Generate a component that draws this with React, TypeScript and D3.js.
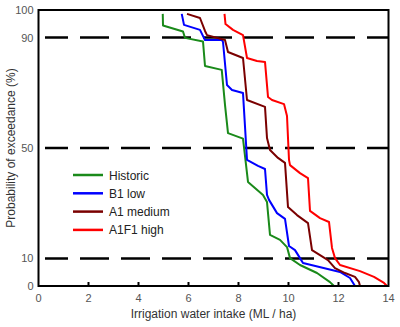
import React from "react";
import * as d3 from "d3";

const xTicks = [0, 2, 4, 6, 8, 10, 12, 14];
const yTicks = [0, 10, 50, 90, 100];
const dashedLevels = [10, 50, 90];

const seriesNames = ["Historic", "B1 low", "A1 medium", "A1F1 high"];
const seriesColors = ["#1a8a1a", "#0000ff", "#7a0000", "#ff0000"];

const historic: [number, number][] = [
  [4.97, 98.6], [4.98, 94.4], [5.78, 92.2], [5.86, 89.9], [6.58, 88.6], [6.66, 79.7],
  [7.33, 78.3], [7.46, 65.6], [7.58, 55.4], [8.18, 53.4], [8.38, 37.7], [8.98, 33.0],
  [9.14, 30.4], [9.26, 18.5], [9.66, 16.7], [9.94, 14.1], [10.06, 10.1], [10.46, 7.6],
  [11.14, 4.7], [11.66, 1.4], [11.82, 0],
];
const b1Low: [number, number][] = [
  [5.73, 98.6], [5.82, 94.6], [6.46, 92.8], [6.66, 89.1], [7.34, 89.1], [7.38, 88.4],
  [7.54, 72.8], [7.74, 71.0], [8.18, 69.9], [8.34, 45.7], [8.78, 43.5], [9.06, 42.4],
  [9.14, 33.0], [9.22, 31.2], [9.54, 26.4], [9.86, 24.3], [10.02, 14.5], [10.26, 13.0],
  [10.46, 10.1], [10.58, 8.3], [12.06, 5.1], [12.46, 2.9], [12.66, 0],
];
const a1Medium: [number, number][] = [
  [5.94, 98.6], [6.46, 97.1], [6.66, 92.4], [6.74, 90.9], [7.46, 89.1], [7.58, 84.8],
  [8.18, 82.6], [8.34, 67.4], [9.06, 64.9], [9.14, 53.6], [9.26, 49.3], [9.58, 46.4],
  [9.86, 44.6], [9.98, 28.6], [10.34, 25.7], [10.78, 22.8], [10.94, 13.0], [11.26, 11.2],
  [11.58, 9.4], [11.86, 6.5], [12.26, 4.7], [12.66, 3.3], [12.82, 1.4], [12.86, 0],
];
const a1f1High: [number, number][] = [
  [7.44, 98.6], [7.48, 94.9], [7.78, 92.8], [8.18, 90.9], [8.34, 82.6], [8.74, 81.5],
  [9.06, 81.2], [9.18, 68.5], [9.34, 67.4], [9.82, 65.9], [9.94, 61.6], [10.02, 45.7],
  [10.06, 43.8], [10.46, 40.9], [10.78, 39.1], [10.86, 27.2], [11.26, 24.6], [11.62, 23.2],
  [11.74, 13.8], [11.86, 10.1], [12.06, 7.6], [12.86, 5.4], [13.42, 3.3], [13.82, 1.1],
  [13.94, 0],
];
const seriesData = [historic, b1Low, a1Medium, a1f1High];

export default function App() {
  const W = 400, H = 327;
  const left = 38.5, right = 388.5, top = 10, bottom = 286;
  const x = d3.scaleLinear().domain([0, 14]).range([left, right]);
  const y = d3.scaleLinear().domain([0, 100]).range([bottom, top]);
  const line = d3.line<[number, number]>().x(d => x(d[0])).y(d => y(d[1]));
  const font = "Arial, 'Liberation Sans', sans-serif";

  return (
    <svg width={W} height={H} style={{ position: "absolute", left: 0, top: 0 }}>
      <rect width={W} height={H} fill="#fff" />
      {dashedLevels.map(v => (
        <line key={v} x1={45} x2={right} y1={y(v)} y2={y(v)} stroke="#000"
          strokeWidth={2.5} strokeDasharray="29 12" strokeDashoffset={6} />
      ))}
      {seriesData.map((s, i) => (
        <path key={i} d={line(s) || ""} fill="none" stroke={seriesColors[i]} strokeWidth={2} strokeLinejoin="round" />
      ))}
      <rect x={left} y={top} width={right - left} height={bottom - top} fill="none" stroke="#000" strokeWidth={2} />
      {xTicks.map(t => (
        <g key={t}>
          {t > 0 && t < 14 && <line x1={x(t)} x2={x(t)} y1={bottom} y2={bottom - 4} stroke="#000" strokeWidth={2} />}
          <text x={x(t)} y={bottom + 16} textAnchor="middle" fontFamily={font} fontSize={11} fill="#555">{t}</text>
        </g>
      ))}
      {yTicks.map(t => (
        <text key={t} x={left - 5} y={y(t) + 4} textAnchor="end" fontFamily={font} fontSize={11} fill="#555">{t}</text>
      ))}
      <text x={(left + right) / 2} y={318} textAnchor="middle" fontFamily={font} fontSize={12} fill="#333">
        Irrigation water intake (ML / ha)
      </text>
      <text transform={`translate(15, ${(top + bottom) / 2}) rotate(-90)`} textAnchor="middle"
        fontFamily={font} fontSize={12} fill="#333">Probability of exceedance (%)</text>
      {seriesNames.map((n, i) => (
        <g key={n}>
          <line x1={73} x2={103} y1={175 + i * 18.3} y2={175 + i * 18.3} stroke={seriesColors[i]} strokeWidth={2.5} />
          <text x={109} y={175 + i * 18.3 + 4.5} fontFamily={font} fontSize={12} fill="#222">{n}</text>
        </g>
      ))}
    </svg>
  );
}
